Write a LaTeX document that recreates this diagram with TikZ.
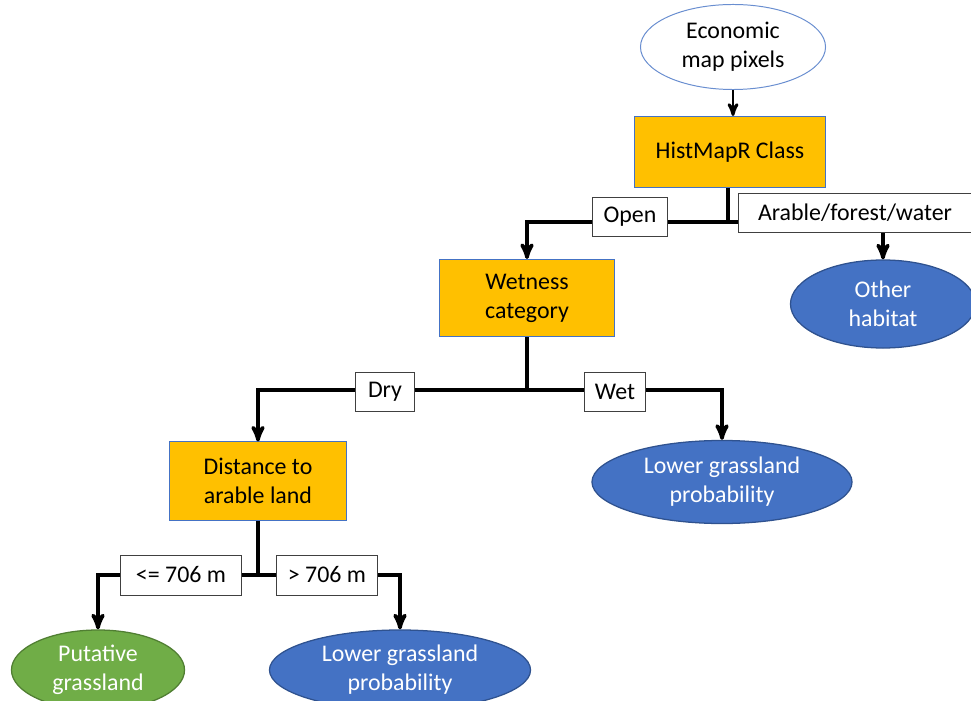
\documentclass[tikz,border=0pt]{standalone}
\usepackage{fontspec}
\setmainfont{Carlito}
\usepackage{tikz}
\usetikzlibrary{arrows,positioning,shapes.geometric}
\definecolor{boxyellow}{HTML}{FFC000}
\definecolor{boxblue}{HTML}{4472C4}
\definecolor{darkblue}{HTML}{2F528F}
\definecolor{leafgreen}{HTML}{70AD47}
\definecolor{darkgreen}{HTML}{507E32}
\tikzset{
    %Define standard arrow tip
    >=stealth',
    font=\fontsize{17}{20.6}\selectfont,
    %Define style for decision boxes
    rechteck/.style={
           rectangle,
           fill=boxyellow,
           draw=boxblue, line width=0.7pt,
           inner sep=0pt,
           align=center},
    % Define style for branch labels
    zweig/.style={
           rectangle,
           fill=white,
           draw=black!75, line width=0.7pt,
           inner sep=0pt,
           minimum height=0.975cm},
    % Define arrow style
    pil/.style={
	   ->,
	   line width=2.6pt},
    linie/.style={line width=2.6pt},
    % Define end node styles
    start/.style={ellipse,fill=white,draw=boxblue!80,line width=0.7pt,inner sep=0pt,align=center},
    blatt/.style={ellipse,fill=boxblue,draw=darkblue,line width=0.9pt,inner sep=0pt,text=white,align=center},
    gruen/.style={ellipse,fill=leafgreen,draw=darkgreen,line width=0.9pt,inner sep=0pt,text=white,align=center}
}

\begin{document}
\begin{tikzpicture}[x=0.025cm,y=-0.025cm]
  \useasboundingbox (0,0) rectangle (971,701);
  \node[start, minimum width=4.625cm, minimum height=2.125cm] (econ) at (733,47) {Economic\\map pixels};
  \node[rechteck, minimum width=4.775cm, minimum height=1.775cm] (hist) at (730,152) {HistMapR Class};
  \node[rechteck, minimum width=4.35cm, minimum height=1.925cm] (wet) at (527,298) {Wetness\\category};
  \node[blatt, minimum width=4.625cm, minimum height=2.2cm] (other) at (883,304) {Other\\habitat};
  \node[blatt, minimum width=6.5cm, minimum height=2.075cm] (lowA) at (722,482) {Lower grassland\\probability};
  \node[rechteck, minimum width=4.4cm, minimum height=1.95cm] (dist) at (258,481) {Distance to\\arable land};
  \node[gruen, minimum width=4.325cm, minimum height=2cm] (put) at (98,670) {Putative\\grassland};
  \node[blatt, minimum width=6.525cm, minimum height=2cm] (lowB) at (400,670) {Lower grassland\\probability};
  \coordinate (j1) at (728,222);
  \coordinate (j2) at (527,390);
  \coordinate (j3) at (258,575);
  \draw[pil, line width=2pt] (econ.south) -- (econ.south |- hist.north);
  \draw[linie] (hist.south -| j1) -- (j1);
  \draw[pil] (j1) -| (wet.north);
  \draw[pil] (j1) -| (other.north);
  \draw[linie] (wet.south) -- (j2);
  \draw[pil] (j2) -| (dist.north);
  \draw[pil] (j2) -| (lowA.north);
  \draw[linie] (dist.south) -- (j3);
  \draw[pil] (j3) -| (put.north);
  \draw[pil] (j3) -| (lowB.north);
  \node[zweig, minimum width=1.875cm] (open) at (630,217) {Open};
  \node[zweig, minimum width=5.8cm] (arable) at (855,213) {Arable/forest/water};
  \node[zweig, minimum width=1.475cm] (dry) at (385,392) {Dry};
  \node[zweig, minimum width=1.525cm] (wetlab) at (615,392) {Wet};
  \node[zweig, minimum width=3cm, minimum height=1cm] (near) at (181,575) {<= 706 m};
  \node[zweig, minimum width=2.525cm, minimum height=1cm] (far) at (327,575) {> 706 m};
\end{tikzpicture}
\end{document}
